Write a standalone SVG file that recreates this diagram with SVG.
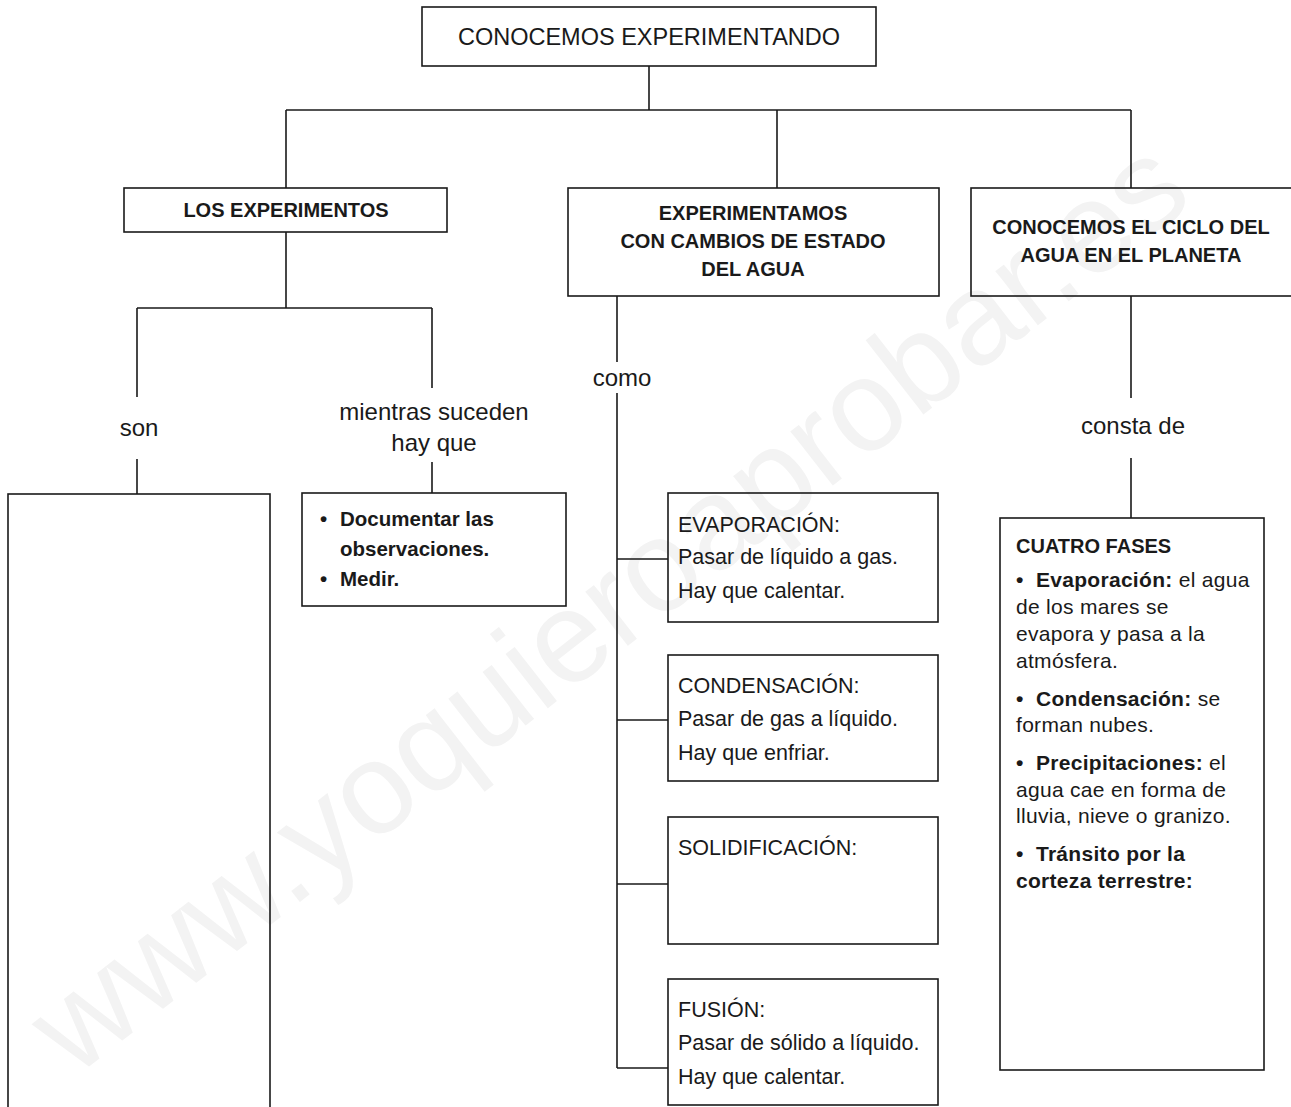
<svg xmlns="http://www.w3.org/2000/svg" width="1291" height="1107" viewBox="0 0 1291 1107">
<style>
.box{fill:none;stroke:#1a1a1a;stroke-width:1.6}
.ln{fill:none;stroke:#1a1a1a;stroke-width:1.6}
text{font-family:"Liberation Sans",Arial,sans-serif;fill:#1a1a1a}
.title{font-size:23.5px;text-anchor:middle}
.hd{font-size:20px;font-weight:bold;text-anchor:middle}
.lbl{font-size:24px;text-anchor:middle}
.bt{font-size:21.5px}
.bl{font-size:20.5px;font-weight:bold}
.rt{font-size:21px;letter-spacing:0.3px}
.b{font-weight:bold}
.wm{font-size:130px;fill:#f3f3f3;text-anchor:middle}
</style>
<rect width="1291" height="1107" fill="#ffffff"/>
<text class="wm" transform="translate(635,640) rotate(-38)">www.yoquieroaprobar.es</text>

<g id="connectors">
<path class="ln" d="M649,66V110M286,110H1131M286,110V188M777,110V188M1131,110V188"/>
<path class="ln" d="M286,232V308M137,308H432M137,308V397M137,459V494M432,308V388M432,462V493"/>
<path class="ln" d="M617,296V362M617,393V1068M617,559H668M617,720H668M617,884H668M617,1068H668"/>
<path class="ln" d="M1131,296V398M1131,458V518"/>
</g>

<g id="root">
<rect class="box" x="422" y="7" width="454" height="59"/>
<text class="title" x="649" y="45">CONOCEMOS EXPERIMENTANDO</text>
</g>

<g id="los-experimentos">
<rect class="box" x="124" y="188" width="323" height="44"/>
<text class="hd" x="286" y="217">LOS EXPERIMENTOS</text>
</g>

<g id="cambios-estado">
<rect class="box" x="568" y="188" width="371" height="108"/>
<text class="hd" x="753" y="220">EXPERIMENTAMOS</text>
<text class="hd" x="753" y="248">CON CAMBIOS DE ESTADO</text>
<text class="hd" x="753" y="276">DEL AGUA</text>
</g>

<g id="ciclo-agua">
<rect class="box" x="971" y="188" width="330" height="108"/>
<text class="hd" x="1131" y="234">CONOCEMOS EL CICLO DEL</text>
<text class="hd" x="1131" y="262">AGUA EN EL PLANETA</text>
</g>

<g id="lbl-son"><text class="lbl" x="139" y="436">son</text></g>
<g id="lbl-mientras">
<text class="lbl" x="434" y="420">mientras suceden</text>
<text class="lbl" x="434" y="451">hay que</text>
</g>
<g id="lbl-como"><text class="lbl" x="622" y="386">como</text></g>
<g id="lbl-consta"><text class="lbl" x="1133" y="434">consta de</text></g>

<g id="son-box">
<rect class="box" x="8" y="494" width="262" height="640"/>
</g>

<g id="hay-que-box">
<rect class="box" x="302" y="493" width="264" height="113"/>
<text class="bl" x="320" y="526">•</text>
<text class="bl" x="340" y="526">Documentar las</text>
<text class="bl" x="340" y="556">observaciones.</text>
<text class="bl" x="320" y="586">•</text>
<text class="bl" x="340" y="586">Medir.</text>
</g>

<g id="evaporacion">
<rect class="box" x="668" y="493" width="270" height="129"/>
<text class="bt" x="678" y="532">EVAPORACIÓN:</text>
<text class="bt" x="678" y="564">Pasar de líquido a gas.</text>
<text class="bt" x="678" y="598">Hay que calentar.</text>
</g>

<g id="condensacion">
<rect class="box" x="668" y="655" width="270" height="126"/>
<text class="bt" x="678" y="693">CONDENSACIÓN:</text>
<text class="bt" x="678" y="726">Pasar de gas a líquido.</text>
<text class="bt" x="678" y="760">Hay que enfriar.</text>
</g>

<g id="solidificacion">
<rect class="box" x="668" y="817" width="270" height="127"/>
<text class="bt" x="678" y="855">SOLIDIFICACIÓN:</text>
</g>

<g id="fusion">
<rect class="box" x="668" y="979" width="270" height="126"/>
<text class="bt" x="678" y="1017">FUSIÓN:</text>
<text class="bt" x="678" y="1050">Pasar de sólido a líquido.</text>
<text class="bt" x="678" y="1084">Hay que calentar.</text>
</g>

<g id="cuatro-fases">
<rect class="box" x="1000" y="518" width="264" height="552"/>
<text class="hd" x="1016" y="553" style="text-anchor:start">CUATRO FASES</text>
<text class="rt" x="1016" y="587"><tspan class="b">•&#160; Evaporación:</tspan> el agua</text>
<text class="rt" x="1016" y="614">de los mares se</text>
<text class="rt" x="1016" y="641">evapora y pasa a la</text>
<text class="rt" x="1016" y="668">atmósfera.</text>
<text class="rt" x="1016" y="706"><tspan class="b">•&#160; Condensación:</tspan> se</text>
<text class="rt" x="1016" y="732">forman nubes.</text>
<text class="rt" x="1016" y="770"><tspan class="b">•&#160; Precipitaciones:</tspan> el</text>
<text class="rt" x="1016" y="797">agua cae en forma de</text>
<text class="rt" x="1016" y="823">lluvia, nieve o granizo.</text>
<text class="rt" x="1016" y="861"><tspan class="b">•&#160; Tránsito por la</tspan></text>
<text class="rt b" x="1016" y="888">corteza terrestre:</text>
</g>
</svg>
